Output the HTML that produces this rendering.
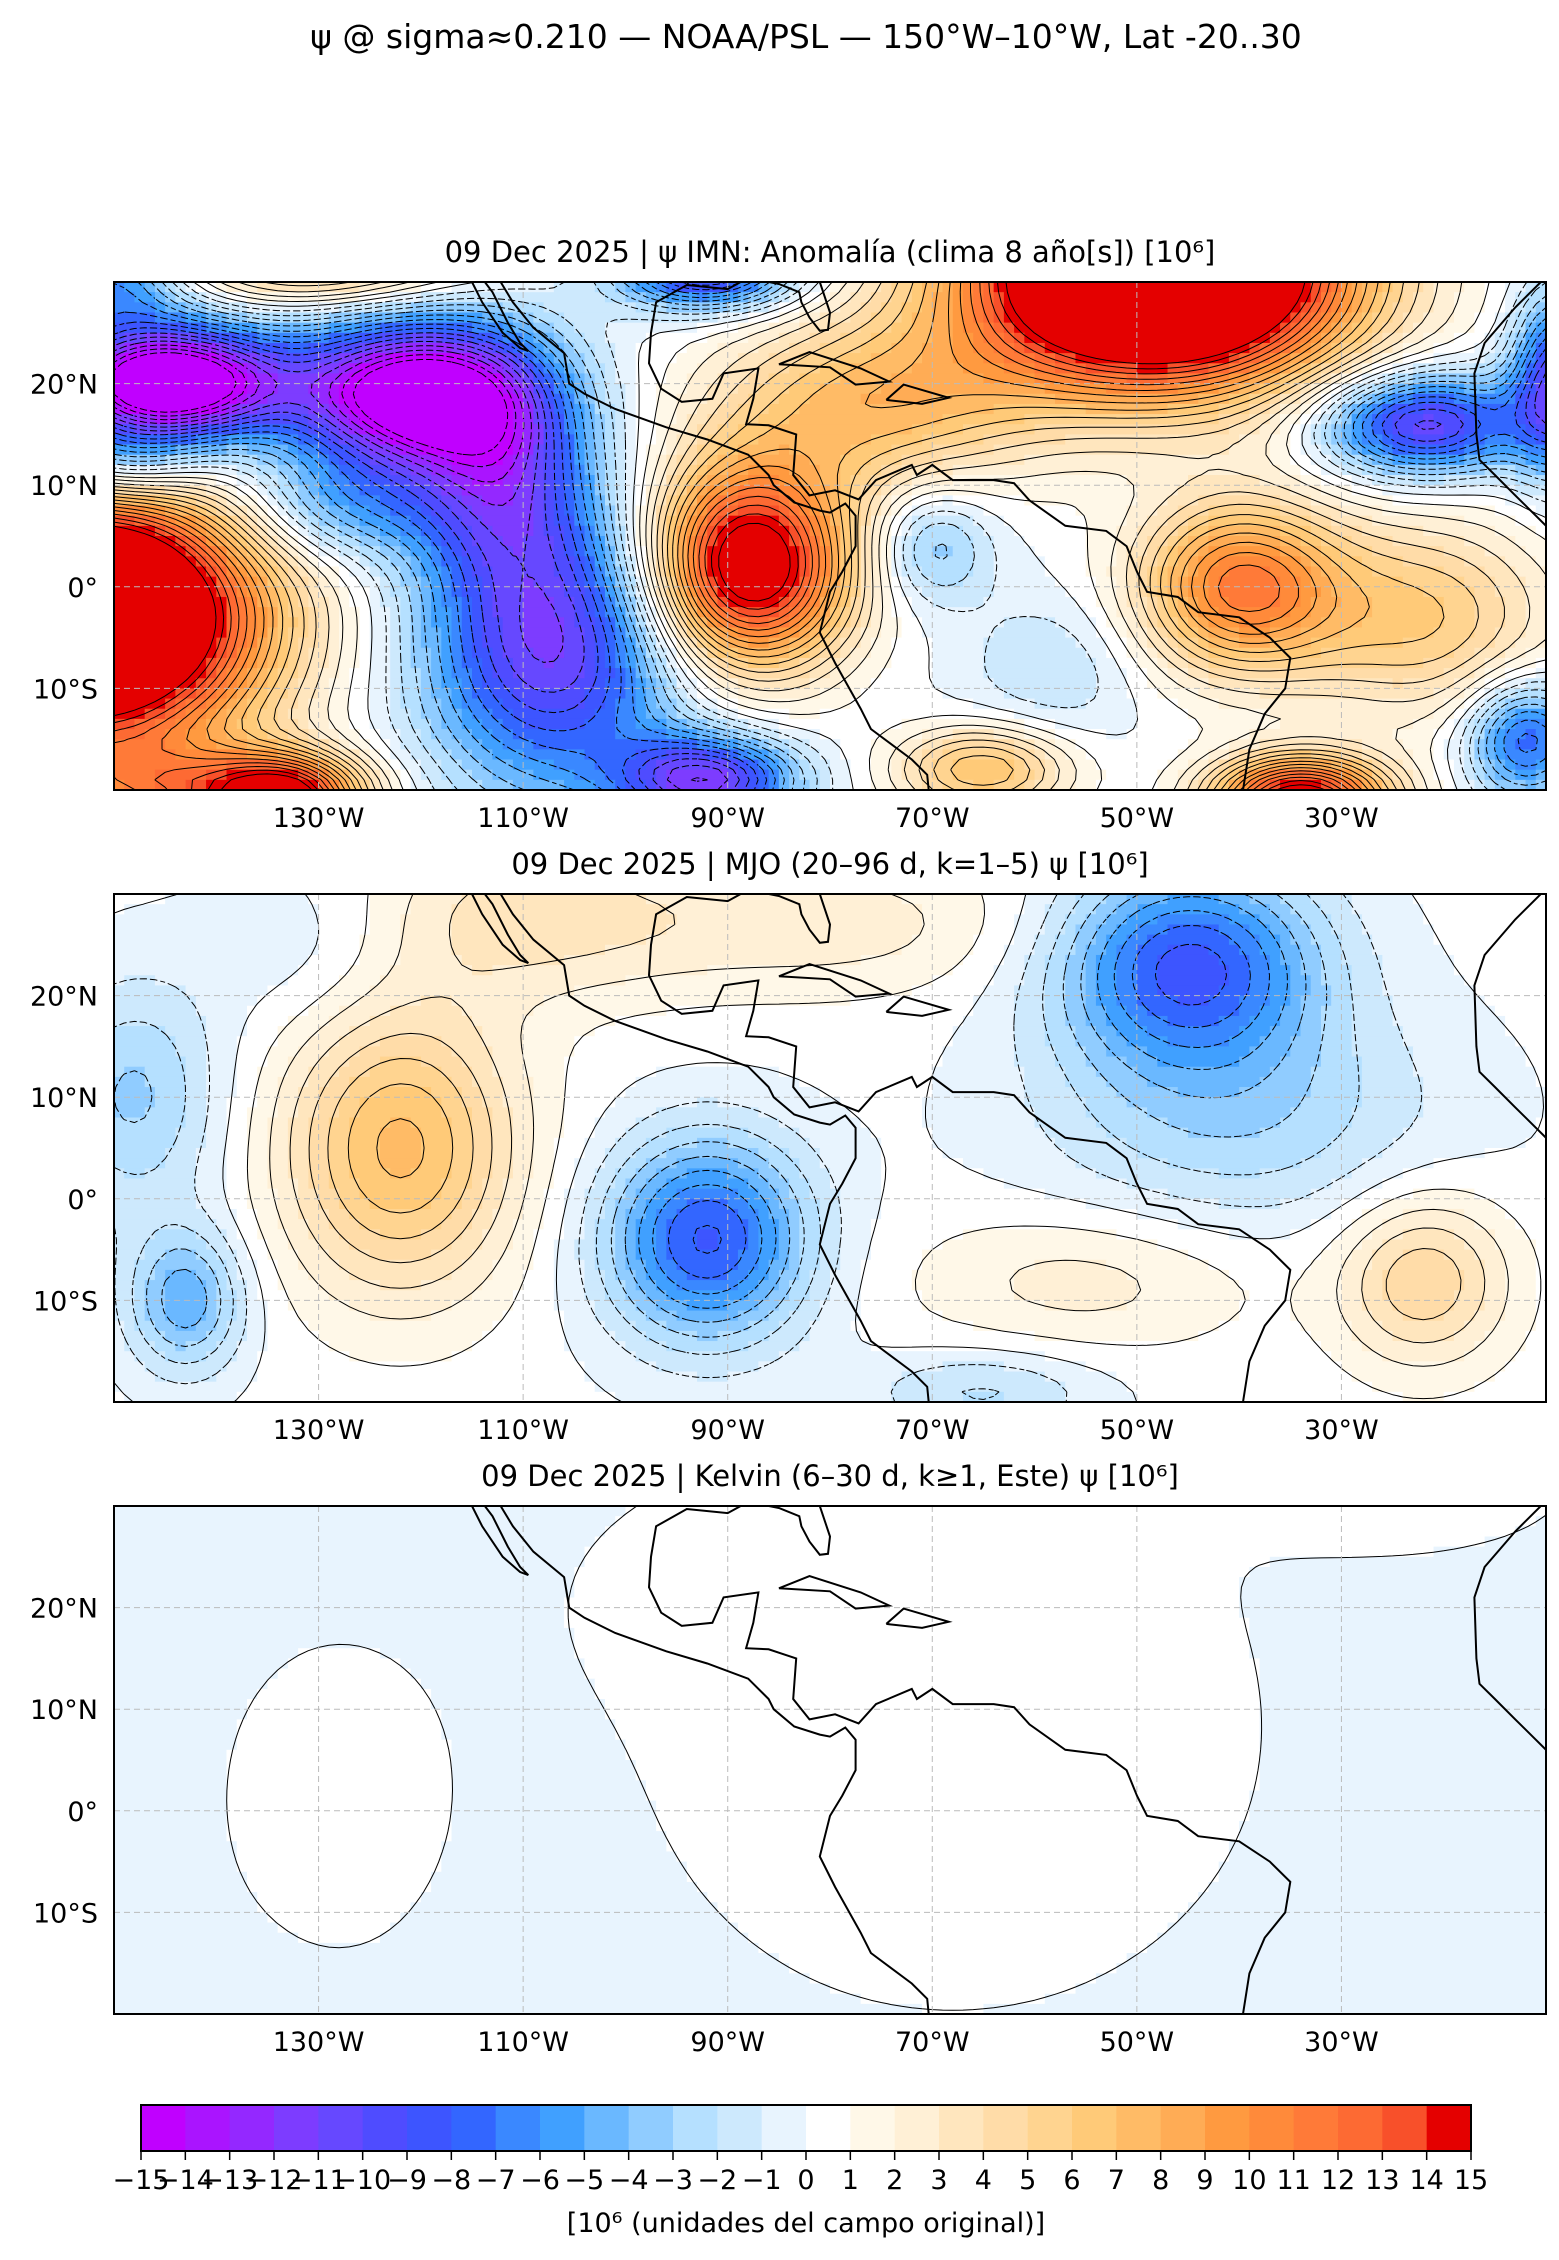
<!DOCTYPE html>
<html><head><meta charset="utf-8">
<style>
html,body{margin:0;padding:0;background:#fff;}
body{width:1559px;height:2256px;overflow:hidden;font-family:"DejaVu Sans","Liberation Sans",sans-serif;}
svg text{font-family:"DejaVu Sans","Liberation Sans",sans-serif;fill:#000;}
</style></head>
<body>
<svg id="fig" width="1559" height="2256" viewBox="0 0 1559 2256" xmlns="http://www.w3.org/2000/svg">
<text x="806" y="48" font-size="33" text-anchor="middle">ψ @ sigma≈0.210 — NOAA/PSL — 150°W–10°W, Lat -20..30</text>
</svg>
<script>
// ---- data ----
const panelTitles = ["09 Dec 2025 | ψ IMN: Anomalía (clima 8 año[s]) [10⁶]","09 Dec 2025 | MJO (20–96 d, k=1–5) ψ [10⁶]","09 Dec 2025 | Kelvin (6–30 d, k≥1, Este) ψ [10⁶]"];
const lonTicks = [-130,-110,-90,-70,-50,-30];
const lonTickLabels = ["130°W","110°W","90°W","70°W","50°W","30°W"];
const latTicks = [20,10,0,-10];
const latTickLabels = ["20°N","10°N","0°","10°S"];
const cbarTicks = [-15,-14,-13,-12,-11,-10,-9,-8,-7,-6,-5,-4,-3,-2,-1,0,1,2,3,4,5,6,7,8,9,10,11,12,13,14,15];
const levelColors = ["#c000ff","#aa14ff","#9428ff","#7d3cff","#6648ff","#4f4cff","#3d55ff","#3366ff","#3a88ff","#40a0ff","#6ab8ff","#90ccff","#b5e0ff","#cde9fd","#e8f4fe","#ffffff","#fff8e8","#fff0d6","#ffe6be","#ffdca8","#ffd490","#ffca78","#ffbb66","#ffac55","#ff9a40","#ff8a3a","#ff7a38","#fd6a33","#f8502a","#e40000"];
// blobs: lon, lat, amplitude, sigma-lon, sigma-lat
const p1Base = 0;
const p1Lon = [-145,-121,-153,-142,-133,-107,-92,-112,-88,-76,-48,-70,-22,-40,-22,-34,-12,-58,-65,-92,-150,-9,-150,-128,-130];
const p1Lat = [20,19,-3,-20,-21,-6,-19,12,2,18,31,4,16,0,-3,-21,-15,-8,-18,31,30,20,12,8,31];
const p1Amp = [-20,-17,27,8,12,-11,-11,-8,18,7,28,-4,-11,11,6,17,-8,-2,7,-11,-6,-10,-6,-5,6];
const p1Sx = [8,8,12,10,5,9,6,6,7,11,13,4,7,7,9,6,4,6,6,6,5,3,6,8,10];
const p1Sy = [4,5,9,3,3,10,3,8,7,6,8,4,3.5,6,7,3,4,5,3,2.5,3,6,3,4,2.5];
const p2Base = 0.3;
const p2Lon = [-148,-143,-122,-110,-92,-45,-40,-55,-22,-80,-65,-130];
const p2Lat = [10,-10,5,28,-4,23,8,-8,-8,27,-19,25];
const p2Amp = [-3.5,-5,7,3,-8.5,-8.5,-3,2.2,4.6,2.2,-2.5,-1.5];
const p2Sx = [6,4,8,12,7,9,14,12,6,15,8,8];
const p2Sy = [8,5,10,6,7,7,8,5,6,5,3,6];
const p3Base = -0.5;
const p3Lon = [-129,-68,-22,-85,-150];
const p3Lat = [1,8,32,22,-20];
const p3Amp = [0.9,1.1,0.9,0.5,-0.3];
const p3Sx = [9,24,12,16,10];
const p3Sy = [13,22,5,8,5];
// coastlines (lon,lat pairs)
const coastAmericasW = [[-114.5,31],[-113,29],[-111.5,26],[-110.3,24],[-109.5,23.2],[-110.3,23.5],[-112,25],[-114,28],[-115,30],[-116,31]];
const coastMainlandW = [[-112.8,31],[-111,28],[-109,25.5],[-106,23],[-105.5,20],[-104,19],[-101,17.5],[-96,15.7],[-92,14.5],[-88,13],[-86,11],[-85.5,10],[-83.5,8.3],[-81,7.5],[-80,7.3],[-78.5,8.2],[-77.5,7],[-77.5,4],[-78.8,1.5],[-80,-0.5],[-81,-4.5],[-79.5,-7.5],[-77,-12],[-76,-14],[-72,-17],[-70.5,-18.5],[-70.3,-20.5]];
const coastGulf = [[-81.5,31],[-81,30],[-80,27],[-80.2,25.3],[-81,25.2],[-82,26.5],[-82.8,28],[-83,29],[-85,29.8],[-88,30.4],[-90,29.3],[-94,29.7],[-97,28],[-97.5,25],[-97.7,22],[-96.5,19.5],[-94.5,18.2],[-91.5,18.5],[-90.4,21],[-87,21.5],[-87.5,18.5],[-88.2,16],[-86,15.9],[-83.3,15],[-83.6,11],[-82,9],[-79.5,9.5],[-77.2,8.6],[-75.5,10.5],[-72,12],[-71.5,11],[-70,12],[-68,10.5],[-64,10.5],[-62,10.2],[-60.5,8.5],[-57,6],[-53,5.5],[-51,4],[-50,1.5],[-49,-0.5],[-46,-1],[-44,-2.5],[-40,-3],[-37,-5],[-35,-7],[-35.5,-10],[-37.5,-12.5],[-39,-16],[-39.7,-20.5]];
const coastCuba = [[-85,21.9],[-82,23.1],[-77,21.5],[-74.2,20.2],[-77.5,19.9],[-80,21.6],[-85,21.9]];
const coastHisp = [[-74.5,18.4],[-72.8,19.9],[-68.4,18.6],[-71,18],[-74.5,18.4]];
const coastAfrica = [[-10,30.5],[-13,27.5],[-16,24],[-17,21],[-16.8,15],[-16.5,12.5],[-15,11],[-13,9],[-11,7],[-9.5,5.5]];
// ---- layout ----
const NS='http://www.w3.org/2000/svg';
const svg=document.getElementById('fig');
const AX_L=114, AX_R=1546, AX_H=508;
const panelTops=[282,894,1506];
function xS(lon){return AX_L+(lon+150)*(AX_R-AX_L)/140;}
function mk(tag,attrs,parent){const e=document.createElementNS(NS,tag);for(const k in attrs)e.setAttribute(k,attrs[k]);(parent||svg).appendChild(e);return e;}
function field(base,lon,lat,amp,sx,sy,x,y){let v=base;for(let i=0;i<lon.length;i++){const dx=(x-lon[i])/sx[i],dy=(y-lat[i])/sy[i];v+=amp[i]*Math.exp(-0.5*(dx*dx+dy*dy));}return v;}
function colorIdx(v){let i=Math.floor(v)+15;return Math.max(0,Math.min(29,i));}
const panels=[[p1Base,p1Lon,p1Lat,p1Amp,p1Sx,p1Sy],[p2Base,p2Lon,p2Lat,p2Amp,p2Sx,p2Sy],[p3Base,p3Lon,p3Lat,p3Amp,p3Sx,p3Sy]];
panels.forEach((P,pi)=>{
  const top=panelTops[pi];
  const yS=lat=>top+(30-lat)*AX_H/50;
  const g=mk('g',{});
  
  
  const cid='clip'+pi;
  const cp=mk('clipPath',{id:cid},g);
  mk('rect',{x:AX_L,y:top,width:AX_R-AX_L,height:AX_H},cp);
  const inner=mk('g',{'clip-path':'url(#'+cid+')'},g);
  const heat=mk('g',{},inner);
  
  
  for(let j=0;j<50;j++){
    const la=29.5-j;
    let runStart=0,runC=-1;
    for(let i=0;i<=140;i++){
      const c=i<140?colorIdx(field(P[0],P[1],P[2],P[3],P[4],P[5],-149.5+i,la)):-2;
      if(c!==runC){
        if(runC>=0){const r=mk('rect',{x:xS(-150+runStart),y:yS(la+0.5),width:xS(-150+i)-xS(-150+runStart)+0.6,height:AX_H/50+0.6,fill:levelColors[runC]},heat);
          
          }
        runStart=i;runC=c;
      }
    }
  }
  const NX=141,NY=51,V=[];
  for(let j=0;j<NY;j++){V.push([]);for(let i=0;i<NX;i++)V[j].push(field(P[0],P[1],P[2],P[3],P[4],P[5],-150+i,30-j));}
  const levels=pi===2?[0]:cbarTicks;
  levels.forEach(L=>{
    let d='';
    const px=(i,j)=>[xS(-150+i),yS(30-j)];
    for(let j=0;j<NY-1;j++)for(let i=0;i<NX-1;i++){
      const a=V[j][i],b=V[j][i+1],c=V[j+1][i+1],e=V[j+1][i];
      const pts=[];
      const edge=(v1,v2,x1,y1,x2,y2)=>{if((v1<L)!==(v2<L)){const t=(L-v1)/(v2-v1);pts.push(px(x1+(x2-x1)*t,y1+(y2-y1)*t));}};
      edge(a,b,i,j,i+1,j);edge(b,c,i+1,j,i+1,j+1);edge(c,e,i+1,j+1,i,j+1);edge(e,a,i,j+1,i,j);
      for(let k=0;k+1<pts.length;k+=2)d+='M'+pts[k][0].toFixed(1)+' '+pts[k][1].toFixed(1)+'L'+pts[k+1][0].toFixed(1)+' '+pts[k+1][1].toFixed(1);
    }
    if(d){const p=mk('path',{d:d,fill:'none',stroke:'#000','stroke-width':1,'stroke-dasharray':L<0?'5,3':'none'},inner);
      
      }
  });
  lonTicks.forEach(l=>{const ln=mk('line',{x1:xS(l),x2:xS(l),y1:top,y2:top+AX_H,stroke:'#bbb','stroke-width':1,'stroke-dasharray':'6,4'},inner);
    });
  latTicks.forEach(l=>{const ln=mk('line',{x1:AX_L,x2:AX_R,y1:yS(l),y2:yS(l),stroke:'#bbb','stroke-width':1,'stroke-dasharray':'6,4'},inner);
    });
  [coastAmericasW,coastMainlandW,coastGulf,coastCuba,coastHisp,coastAfrica].forEach(c=>{
    const p=mk('path',{d:'M'+c.map(q=>xS(q[0]).toFixed(1)+' '+yS(q[1]).toFixed(1)).join('L'),fill:'none',stroke:'#000','stroke-width':2},inner);
    
    
  });
  const fr=mk('rect',{x:AX_L,y:top,width:AX_R-AX_L,height:AX_H,fill:'none',stroke:'#000','stroke-width':2},g);
  
  
  const t=mk('text',{x:(AX_L+AX_R)/2,y:top-20,'font-size':29,'text-anchor':'middle'},g);
  t.textContent=panelTitles[pi];
  
  
  lonTicks.forEach((l,k)=>{const tx=mk('text',{x:xS(l),y:top+AX_H+37,'font-size':27,'text-anchor':'middle'},g);tx.textContent=lonTickLabels[k];
    });
  latTicks.forEach((l,k)=>{const tx=mk('text',{x:AX_L-16,y:yS(l)+10,'font-size':27,'text-anchor':'end'},g);tx.textContent=latTickLabels[k];
    });
});
const CB_L=141,CB_R=1471,CB_T=2105,CB_B=2151;
const cb=mk('g',{});


const cx=v=>CB_L+(v+15)*(CB_R-CB_L)/30;
levelColors.forEach((c,i)=>{const r=mk('rect',{x:cx(i-15),y:CB_T,width:cx(i-14)-cx(i-15)+0.5,height:CB_B-CB_T,fill:c},cb);
  });
const cbf=mk('rect',{x:CB_L,y:CB_T,width:CB_R-CB_L,height:CB_B-CB_T,fill:'none',stroke:'#000','stroke-width':2},cb);

cbarTicks.forEach(v=>{
  const ln=mk('line',{x1:cx(v),x2:cx(v),y1:CB_B,y2:CB_B+9,stroke:'#000','stroke-width':1.5},cb);
  
  const tx=mk('text',{x:cx(v),y:CB_B+38,'font-size':27,'text-anchor':'middle'},cb);
  tx.textContent=(v<0?'−':'')+Math.abs(v);
  
});
const cl=mk('text',{x:(CB_L+CB_R)/2,y:2232,'font-size':27,'text-anchor':'middle'},cb);
cl.textContent='[10⁶ (unidades del campo original)]';

</script>
</body></html>
